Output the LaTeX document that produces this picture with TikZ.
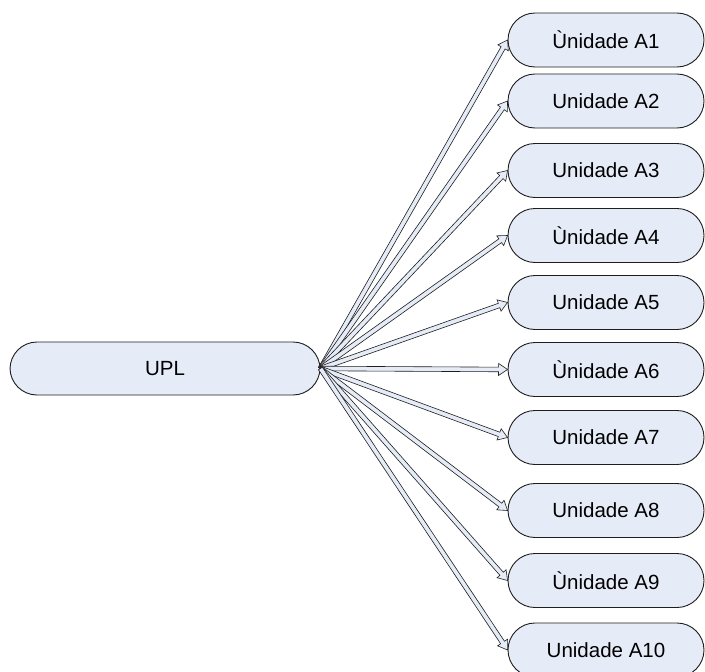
\documentclass[tikz,border=0pt]{standalone}
\usepackage{fontspec}
\setmainfont{Liberation Sans}
\usetikzlibrary{calc}
\definecolor{boxfill}{RGB}{230,236,247}
\definecolor{edge}{RGB}{30,30,30}
\tikzset{
  unitbox/.style={draw=edge, line width=0.9pt, fill=boxfill, rectangle, rounded corners=27pt,
    minimum width=196pt, minimum height=54pt, font=\fontsize{20.5pt}{24pt}\selectfont, inner sep=0pt},
  blockarrow/.style={draw=edge, line width=0.6pt, fill=boxfill, line join=miter}
}
\def\hw{2.3pt}
\def\HW{6pt}
\def\HL{9pt}
\begin{document}
\begin{tikzpicture}[x=1pt,y=-1pt]
\useasboundingbox (0,0) rectangle (705,672);
\clip (0,0) rectangle (705,672);
\node[unitbox, minimum width=310pt, minimum height=53pt] (upl) at (165,368.5) {UPL};
\node[unitbox] (a1) at (606,40) {Ùnidade A1};
\node[unitbox] (a2) at (606,101) {Unidade A2};
\node[unitbox] (a3) at (606,170.5) {Unidade A3};
\node[unitbox] (a4) at (606,235.5) {Ùnidade A4};
\node[unitbox] (a5) at (606,302.5) {Unidade A5};
\node[unitbox] (a6) at (606,369.5) {Ùnidade A6};
\node[unitbox] (a7) at (606,437.5) {Unidade A7};
\node[unitbox] (a8) at (606,510.5) {Unidade A8};
\node[unitbox] (a9) at (606,580.5) {Ùnidade A9};
\node[unitbox] (a10) at (606,650) {Unidade A10};
\foreach \i in {1,...,10}{
  \coordinate (S) at (upl.east);
  \coordinate (T) at (a\i.west);
  \coordinate (B) at ($(T)!\HL!(S)$);
  \draw[blockarrow] ($(S)!\hw!90:(T)$) -- ($(B)!\hw!90:(T)$) -- ($(B)!\HW!90:(T)$) -- (T)
    -- ($(B)!\HW!-90:(T)$) -- ($(B)!\hw!-90:(T)$) -- ($(S)!\hw!-90:(T)$) -- cycle;
}
\end{tikzpicture}
\end{document}
